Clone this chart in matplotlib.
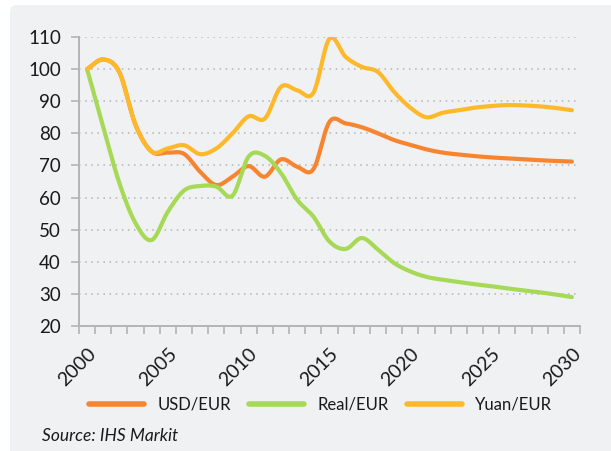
import numpy as np
import matplotlib
matplotlib.use("Agg")
import matplotlib.pyplot as plt
from matplotlib.patches import FancyBboxPatch
from matplotlib.ticker import FixedLocator

# ── Data (index) ───────────────────────────────────────────────────────────
YEARS = list(range(2000, 2031))

USD_EUR = [100, 103, 99, 82.6, 74.3, 74.0, 73.6, 68.0, 63.9, 66.5,
           69.8, 66.5, 71.9, 69.6, 68.8, 83.6, 83.1, 81.9, 80.0, 77.9,
           76.4, 75.0, 74.0, 73.4, 72.9, 72.5, 72.2, 71.9, 71.6, 71.4, 71.2]

REAL_EUR = [100, 81.9, 64.5, 52.0, 46.8, 55.6, 62.2, 63.6, 63.4, 60.6,
            72.8, 73.0, 67.6, 59.3, 54.1, 46.3, 44.0, 47.4, 43.8, 39.6,
            37.0, 35.3, 34.4, 33.7, 33.0, 32.4, 31.7, 31.1, 30.5, 29.8, 29.0]

YUAN_EUR = [100, 103, 99, 82.6, 74.3, 75.3, 76.3, 73.5, 75.3, 80.0,
            85.3, 84.6, 94.5, 93.4, 92.6, 109.5, 103.8, 100.7, 99.1, 92.9,
            88.0, 85.0, 86.4, 87.2, 88.0, 88.5, 88.8, 88.7, 88.4, 87.9, 87.2]

SERIES = [("USD/EUR", USD_EUR, "#F7852F"),
          ("Real/EUR", REAL_EUR, "#A6D955"),
          ("Yuan/EUR", YUAN_EUR, "#FDB92A")]

Y_TICKS = [20, 30, 40, 50, 60, 70, 80, 90, 100, 110]
X_LABEL_YEARS = [2000, 2005, 2010, 2015, 2020, 2025, 2030]


def smooth(y, n=24):
    """Catmull-Rom curve through the points (like a 'smoothed line')."""
    y = np.asarray(y, float)
    x = np.arange(len(y), dtype=float)
    px = np.concatenate([[2 * x[0] - x[1]], x, [2 * x[-1] - x[-2]]])
    py = np.concatenate([[2 * y[0] - y[1]], y, [2 * y[-1] - y[-2]]])
    xs, ys = [], []
    t = np.linspace(0, 1, n, endpoint=False)[:, None]
    for i in range(1, len(px) - 2):
        p0 = np.array([px[i - 1], py[i - 1]])
        p1 = np.array([px[i], py[i]])
        p2 = np.array([px[i + 1], py[i + 1]])
        p3 = np.array([px[i + 2], py[i + 2]])
        c1 = p1 + (p2 - p0) / 6
        c2 = p2 - (p3 - p1) / 6
        pts = ((1 - t) ** 3 * p1 + 3 * (1 - t) ** 2 * t * c1
               + 3 * (1 - t) * t ** 2 * c2 + t ** 3 * p2)
        xs.append(pts[:, 0])
        ys.append(pts[:, 1])
    xs.append([x[-1]])
    ys.append([y[-1]])
    return np.concatenate(xs), np.concatenate(ys)


plt.rcParams.update({
    "font.family": ["Lato", "DejaVu Sans"],
    "font.size": 11,
})

fig = plt.figure(figsize=(6.11, 4.51), dpi=100, facecolor="white")

# light grey rounded panel behind everything
panel = FancyBboxPatch((0.10, -0.2), 6.3, 4.66,
                       boxstyle="round,pad=0,rounding_size=0.07",
                       transform=fig.dpi_scale_trans,
                       facecolor="#F0F1F3", edgecolor="none", zorder=-10)
fig.patches.append(panel)

ax = fig.add_axes([79 / 611, 125 / 451, 501 / 611, 289 / 451])
ax.set_facecolor("none")

for name, vals, color in SERIES:
    xs, ys = smooth(vals)
    ax.plot(xs, ys, color=color, lw=3.0, solid_capstyle="round",
            label=name, zorder=3)

ax.set_xlim(-0.5, len(YEARS) - 0.5)
ax.set_ylim(20, 110)

ax.set_yticks(Y_TICKS)
ax.yaxis.grid(True, color="#B4B4B4", linestyle=(0, (1, 3)), lw=1.1)
ax.set_axisbelow(True)

ax.set_xticks([YEARS.index(y) for y in X_LABEL_YEARS])
ax.set_xticklabels([str(y) for y in X_LABEL_YEARS], rotation=45,
                   ha="right", va="top", rotation_mode="anchor")
ax.xaxis.set_minor_locator(FixedLocator(np.arange(-0.5, len(YEARS), 1.0)))
ax.tick_params(axis="x", which="major", length=0, pad=14, labelsize=14,
               colors="#1A1A1A")
ax.tick_params(axis="x", which="minor", length=6, width=1.2, color="#B4B4B4")
ax.tick_params(axis="y", length=6, width=1.2, color="#B4B4B4", pad=7,
               labelsize=13.5, labelcolor="#1A1A1A")

for side in ("top", "right"):
    ax.spines[side].set_visible(False)
for side in ("left", "bottom"):
    ax.spines[side].set_color("#B4B4B4")
    ax.spines[side].set_linewidth(1.4)

fig.legend(loc="center", bbox_to_anchor=(0.525, 1 - 405 / 451), ncol=3,
           frameon=False, handlelength=3.3, handletextpad=0.8,
           columnspacing=1.1, fontsize=12, labelcolor="#1A1A1A")
for line in fig.legends[0].get_lines():
    line.set_linewidth(4.0)

fig.text(42 / 611, 1 - 436 / 451, "Source: IHS Markit", style="italic",
         fontsize=12.5, color="#1A1A1A", va="center", ha="left")

fig.savefig("out.png", dpi=100, facecolor=fig.get_facecolor())
